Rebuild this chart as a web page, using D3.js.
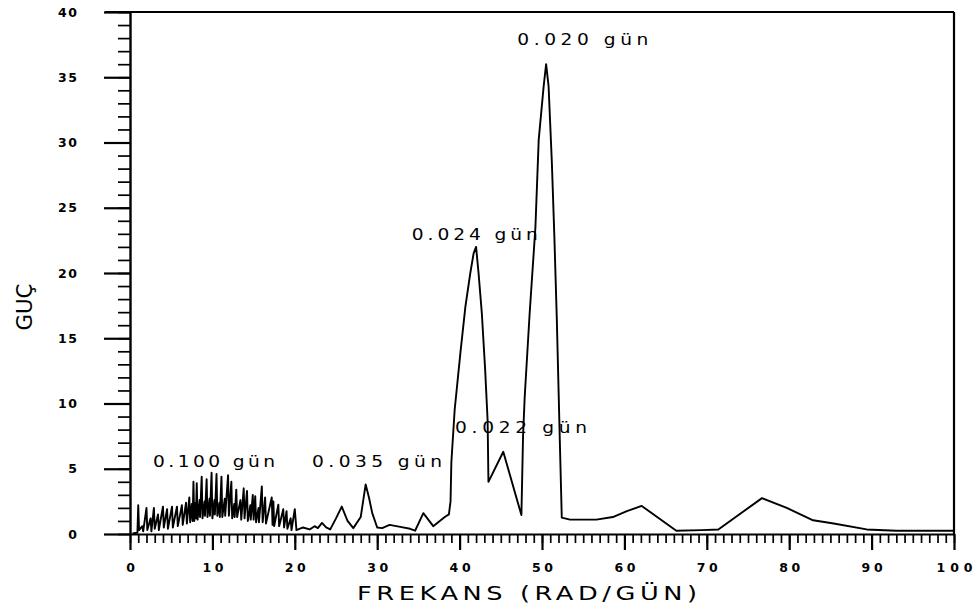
<!DOCTYPE html>
<html>
<head>
<meta charset="utf-8">
<script src="https://cdn.jsdelivr.net/npm/d3@7/dist/d3.min.js"></script>
<style>
  html, body { margin: 0; padding: 0; background: #fff; }
  svg { display: block; }
</style>
</head>
<body>
<svg id="chart" width="973" height="613"></svg>
<script>
// Power spectrum: frequency (rad/day) against power
const frekans = [
  0.3, 0.9, 1.0, 1.1, 1.5, 1.6, 2.0, 2.1, 2.5, 2.6, 2.9, 3.0, 3.4, 3.5, 4.0, 4.1,
  4.5, 4.6, 5.1, 5.2, 5.7, 5.8, 6.3, 6.4, 6.8, 6.9, 7.2, 7.3,
  7.5, 7.6, 7.7, 7.8, 7.95, 8.0, 8.1, 8.2, 8.45, 8.5, 8.7, 8.8, 9.05, 9.1, 9.3, 9.4,
  9.65, 9.7, 9.9, 10.0,
  10.25, 10.3, 10.5, 10.6, 10.85, 10.9, 11.1, 11.2, 11.5, 11.55, 11.9, 12.0, 12.3, 12.4,
  12.65, 12.7, 12.9, 13.0,
  13.4, 13.5, 13.8, 13.9, 14.2, 14.3, 14.6, 14.65, 14.9, 15.0, 15.2, 15.3, 15.6, 15.65,
  16.0, 16.1,
  16.4, 16.5, 17.2, 17.3, 17.4, 17.5, 18.0, 18.1, 18.6, 18.7, 19.0, 19.1, 19.5, 19.6,
  20.0, 20.2,
  21.0, 21.8, 22.4, 22.8, 23.3, 23.8, 24.3, 25.0, 25.7, 26.4, 27.1, 28.0,
  28.6, 29.0, 29.4, 30.0, 30.6, 31.5, 32.8, 34.0, 34.6, 35.6, 36.8, 38.2, 38.7, 38.9,
  39.0, 39.4, 40.1, 40.7, 41.3, 41.7, 42.0, 42.3, 42.7, 43.1, 43.4, 43.5, 45.3, 47.5,
  47.7, 47.9, 48.5, 49.2, 49.6, 50.2, 50.5, 50.8, 51.2, 51.5, 51.8, 52.0, 52.2, 52.4,
  53.4, 56.6, 58.6, 60.3, 62.1, 66.3, 69.4, 71.4, 76.7, 79.7, 82.9, 85.4, 89.4, 93.0,
  100.0
];
const guc = [
  0.05, 0.1, 2.2, 0.3, 0.6, 0.2, 2.0, 0.3, 1.2, 0.2, 2.0, 0.4, 1.5, 0.3, 2.1, 0.5,
  1.9, 0.4, 2.1, 0.5, 2.1, 0.6, 2.2, 0.7, 2.4, 0.8, 2.8, 0.9,
  2.3, 1.0, 4.0, 1.0, 2.4, 1.2, 3.9, 1.1, 2.6, 1.3, 4.4, 1.2, 2.5, 1.4, 4.2, 1.3,
  2.7, 1.4, 4.7, 1.2,
  2.6, 1.5, 4.6, 1.4, 2.4, 1.3, 4.4, 1.3, 2.7, 1.4, 4.5, 1.4, 4.0, 1.2,
  2.3, 1.3, 3.4, 1.3,
  2.6, 1.1, 3.5, 1.2, 3.3, 1.0, 2.2, 1.1, 3.0, 1.1, 2.9, 0.9, 2.0, 0.9,
  3.65, 0.9,
  2.8, 0.8, 2.8, 0.7, 2.5, 0.6, 2.25, 0.6, 1.9, 0.5, 1.75, 0.4, 1.2, 0.3,
  1.9, 0.3,
  0.5, 0.35, 0.6, 0.45, 0.85, 0.5, 0.35, 1.2, 2.1, 1.0, 0.45, 1.3,
  3.8, 2.8, 1.6, 0.5, 0.45, 0.7, 0.55, 0.4, 0.25, 1.6, 0.6, 1.3, 1.5, 2.5,
  5.5, 9.5, 13.9, 17.4, 20.0, 21.5, 22.0, 20.0, 16.9, 12.6, 8.7, 4.0, 6.3, 1.45,
  7.5, 10.5, 16.9, 23.5, 30.2, 34.3, 36.0, 34.3, 28.4, 22.8, 16.4, 11.3, 6.2, 1.25,
  1.1, 1.1, 1.3, 1.75, 2.15, 0.25, 0.3, 0.35, 2.75, 2.0, 1.05, 0.8, 0.35, 0.25,
  0.25
];

// Axis ticks
const xTicks = [0, 10, 20, 30, 40, 50, 60, 70, 80, 90, 100];
const yTicks = [0, 5, 10, 15, 20, 25, 30, 35, 40];

// Period annotations at the main peaks (text, frequency and power where the text starts)
const etiketMetin = ["0.100 gün", "0.035 gün", "0.022 gün", "0.024 gün", "0.020 gün"];
const etiketFrekans = [2.8, 22.1, 39.45, 34.2, 47.0];
const etiketGuc = [5.13, 5.13, 7.74, 22.5, 37.5];

const svg = d3.select("#chart");

const x = d3.scaleLinear().domain([0, 100]).range([130, 954]);
const y = d3.scaleLinear().domain([0, 40]).range([534, 12]);

const font = "'DejaVu Sans', Verdana, sans-serif";

// Text that is widened horizontally and spread to a given width
function wideText(parent, tx, ty, str, size, width, sx, anchor) {
  return parent.append("text")
    .attr("transform", `translate(${tx},${ty}) scale(${sx},1)`)
    .attr("text-anchor", anchor || "start")
    .attr("font-family", font)
    .attr("font-size", size)
    .attr("fill", "#000")
    .attr("textLength", width / sx)
    .attr("lengthAdjust", "spacing")
    .text(str);
}

// Frame: top and right borders
svg.append("line")
  .attr("x1", 105).attr("x2", x(100))
  .attr("y1", y(40)).attr("y2", y(40))
  .attr("stroke", "#000").attr("stroke-width", 2);
svg.append("line")
  .attr("x1", x(100)).attr("x2", x(100))
  .attr("y1", y(40)).attr("y2", y(0))
  .attr("stroke", "#000").attr("stroke-width", 2.2);

// X axis: minor ticks every unit, major ticks every ten
const xMinor = svg.append("g")
  .attr("transform", `translate(0,${y(0)})`)
  .call(d3.axisBottom(x).tickValues(d3.range(0, 101, 1)).tickSize(9).tickSizeOuter(0).tickFormat(""));
xMinor.select(".domain").attr("stroke-width", 2.2);
xMinor.selectAll(".tick line").attr("stroke-width", 1.7);

const xMajor = svg.append("g")
  .attr("transform", `translate(0,${y(0)})`)
  .call(d3.axisBottom(x).tickValues(xTicks).tickSize(16).tickSizeOuter(0).tickPadding(13));
xMajor.select(".domain").remove();
xMajor.selectAll(".tick line").attr("stroke-width", 2.2);
xMajor.selectAll(".tick text")
  .attr("font-family", font)
  .attr("font-weight", "bold")
  .attr("font-size", 12.5)
  .attr("fill", "#000")
  .each(function(d) {
    const s = String(d);
    if (s.length === 2) d3.select(this).attr("textLength", 21).attr("lengthAdjust", "spacing");
    if (s.length === 3) d3.select(this).attr("textLength", 36).attr("lengthAdjust", "spacing");
  });

// Y axis: minor ticks every unit, major ticks every five
const yMinor = svg.append("g")
  .attr("transform", `translate(${x(0)},0)`)
  .call(d3.axisLeft(y).tickValues(d3.range(0, 41, 1)).tickSize(12).tickSizeOuter(0).tickFormat(""));
yMinor.select(".domain").attr("stroke-width", 2.4);
yMinor.selectAll(".tick line").attr("stroke-width", 1.7);

const yMajor = svg.append("g")
  .attr("transform", `translate(${x(0)},0)`)
  .call(d3.axisLeft(y).tickValues(yTicks).tickSize(26).tickSizeOuter(0).tickPadding(27));
yMajor.select(".domain").remove();
yMajor.selectAll(".tick line").attr("stroke-width", 2.2);
yMajor.selectAll(".tick text")
  .attr("font-family", font)
  .attr("font-weight", "bold")
  .attr("font-size", 12.5)
  .attr("fill", "#000")
  .each(function(d) {
    if (String(d).length === 2) d3.select(this).attr("textLength", 19).attr("lengthAdjust", "spacing");
  });

// Spectrum line
const points = frekans.map((f, i) => [f, guc[i]]);
svg.append("path")
  .datum(points)
  .attr("fill", "none")
  .attr("stroke", "#000")
  .attr("stroke-width", 1.9)
  .attr("stroke-linejoin", "round")
  .attr("d", d3.line().x(d => x(d[0])).y(d => y(d[1])));

// Period annotations
const etiketGenislik = [122, 130, 132, 126, 131];
const notes = svg.append("g");
etiketMetin.forEach((s, i) => {
  wideText(notes, x(etiketFrekans[i]), y(etiketGuc[i]), s, 15.5, etiketGenislik[i], 1.2);
});

// Axis titles
wideText(svg, 527, 600, "FREKANS (RAD/GÜN)", 19, 340, 1.35, "middle");

svg.append("text")
  .attr("transform", "translate(32,307) rotate(-90)")
  .attr("text-anchor", "middle")
  .attr("textLength", 47)
  .attr("lengthAdjust", "spacingAndGlyphs")
  .attr("font-family", font)
  .attr("font-size", 21)
  .attr("fill", "#000")
  .text("GUÇ");
</script>
</body>
</html>
